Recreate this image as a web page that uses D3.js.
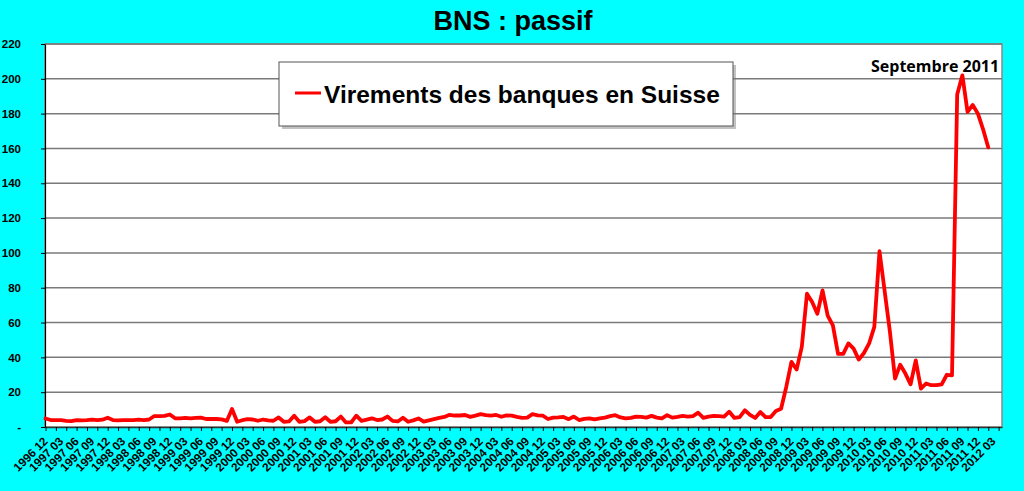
<!DOCTYPE html>
<html><head><meta charset="utf-8">
<script src="https://cdn.jsdelivr.net/npm/d3@7"></script>
<style>html,body{margin:0;padding:0;background:#00ffff;} svg{display:block}</style>
</head><body><svg id="c" width="1024" height="491"></svg>
<script>
// Categories: monthly, 1996-12 .. 2012-03
const months = d3.timeMonth.range(new Date(1996,11,1), new Date(2012,3,1)).map(d3.timeFormat("%Y %m"));
// Series: Virements des banques en Suisse (mrd CHF), 1996-12 .. 2012-02
const virements = [
 4.9, 4.0, 3.9, 3.9, 3.5, 3.4, 4.0, 3.8, 3.9, 4.3,
 3.9, 4.2, 5.3, 4.0, 3.8, 4.0, 3.9, 3.9, 4.2, 4.0,
 4.3, 6.3, 6.3, 6.4, 7.2, 5.0, 4.9, 5.3, 5.0, 5.2,
 5.4, 4.6, 4.6, 4.6, 4.4, 3.5, 10.3, 3.0, 3.9, 4.5,
 4.3, 3.6, 4.3, 3.8, 3.6, 5.5, 3.0, 3.2, 6.5, 3.0,
 3.4, 5.5, 3.0, 3.3, 5.6, 3.0, 3.3, 6.0, 2.6, 2.6,
 6.5, 3.5, 4.2, 5.0, 4.0, 4.3, 6.0, 3.5, 3.2, 5.3,
 3.0, 3.8, 4.9, 3.1, 3.8, 4.5, 5.2, 5.8, 7.0, 6.6,
 6.6, 6.9, 5.8, 6.5, 7.4, 6.8, 6.5, 6.9, 5.9, 6.7,
 6.5, 5.8, 5.2, 5.4, 7.4, 6.7, 6.5, 4.6, 5.4, 5.5,
 5.8, 4.5, 6.0, 4.0, 4.7, 5.0, 4.4, 5.0, 5.4, 6.2,
 6.8, 5.5, 5.0, 5.2, 6.0, 5.8, 5.4, 6.4, 5.4, 5.0,
 6.8, 5.4, 5.8, 6.4, 6.0, 6.3, 8.2, 5.2, 6.0, 6.4,
 6.2, 6.0, 8.8, 5.2, 5.7, 9.6, 7.0, 5.2, 8.6, 5.7,
 5.7, 9.2, 10.5, 23, 37.4, 33, 46, 76.6, 71.8, 65,
 78.5, 64, 58.4, 42, 42, 48, 45, 38.7, 42.5, 48,
 57.5, 101, 78, 55, 27.8, 35.8, 30.7, 24.5, 38.3, 22,
 25, 24, 24, 24.5, 30, 29.7, 191, 202, 181, 185,
 180, 171, 160.6
];
const yTicks = [0,20,40,60,80,100,120,140,160,180,200,220];
const title = "BNS : passif";
const seriesName = "Virements des banques en Suisse";
const annotation = "Septembre 2011";

const svg = d3.select("#c");
svg.append("rect").attr("width",1024).attr("height",491).attr("fill","#00ffff");

const L=45, R=1002, T=44, B=427;
const x = d3.scaleLinear().domain([-0.1, 184.65]).range([L, R]);
const y = d3.scaleLinear().domain([0,220]).range([B,T]);

// plot area
svg.append("rect").attr("x",L).attr("y",T).attr("width",R-L).attr("height",B-T)
  .attr("fill","#fff").attr("stroke","#8a8a8a").attr("stroke-width",1.5);

// gridlines
svg.append("g").selectAll("line").data(yTicks.filter(d=>d>0)).join("line")
  .attr("x1",L).attr("x2",R).attr("y1",d=>y(d)).attr("y2",d=>y(d))
  .attr("stroke","#7a7a7a").attr("stroke-width",1.5);

const font = "'Liberation Sans', Arial, sans-serif";

// y axis
const ya = svg.append("g").attr("transform",`translate(${L},0)`)
  .call(d3.axisLeft(y).tickValues(yTicks).tickSizeInner(4).tickSizeOuter(0).tickPadding(20)
    .tickFormat(d=> d===0 ? "-" : d));
ya.select(".domain").attr("stroke","#000").attr("stroke-width",1.2);
ya.selectAll(".tick line").attr("stroke","#000");
ya.selectAll("text").attr("font-family",font).attr("font-weight","bold").attr("font-size",11.5).attr("fill","#000");

// x axis ticks (every 2 months)
const tickIdx = d3.range(0, 185, 2);
const xa = svg.append("g").attr("transform",`translate(0,${B})`)
  .call(d3.axisBottom(x).tickValues(tickIdx).tickSizeInner(4).tickSizeOuter(0).tickFormat(""));
xa.select(".domain").attr("stroke","#333").attr("stroke-width",1.5);
xa.selectAll(".tick line").attr("stroke","#000");

// x labels (every 3 months)
const labIdx = d3.range(0, months.length, 3);
const xl = svg.append("g").attr("transform",`translate(0,${B})`)
  .call(d3.axisBottom(x).tickValues(labIdx).tickSize(0).tickFormat(i=>months[i]));
xl.select(".domain").remove();
xl.selectAll("text").attr("font-family",font).attr("font-weight","bold").attr("font-size",11.8).attr("fill","#000")
  .attr("text-anchor","end").attr("x",0).attr("y",0).attr("dy",0)
  .attr("transform","translate(2.5,15) rotate(-45)");

// line
svg.append("path").datum(virements)
  .attr("d", d3.line().x((d,i)=>x(i)).y(d=>y(d)))
  .attr("fill","none").attr("stroke","#ff0000").attr("stroke-width",3.8)
  .attr("stroke-linejoin","round").attr("stroke-linecap","round");

// title
svg.append("text").attr("x",513).attr("y",30).attr("text-anchor","middle")
  .attr("font-family",font).attr("font-weight","bold").attr("font-size",27).text(title);

// legend
svg.append("rect").attr("x",282).attr("y",65).attr("width",454).attr("height",64).attr("fill","#777").attr("opacity",0.45);
svg.append("rect").attr("x",279).attr("y",62).attr("width",454).attr("height",64).attr("fill","#fff").attr("stroke","#555").attr("stroke-width",1);
svg.append("line").attr("x1",295).attr("x2",321).attr("y1",93).attr("y2",93).attr("stroke","#ff0000").attr("stroke-width",3);
svg.append("text").attr("x",324).attr("y",103).attr("font-family",font).attr("font-weight","bold")
  .attr("font-size",24.5).text(seriesName);

// annotation
svg.append("text").attr("x",871).attr("y",72).attr("font-family","'Open Sans', 'Noto Sans', sans-serif")
  .attr("font-weight","bold").attr("font-size",16).text(annotation);
</script></body></html>
